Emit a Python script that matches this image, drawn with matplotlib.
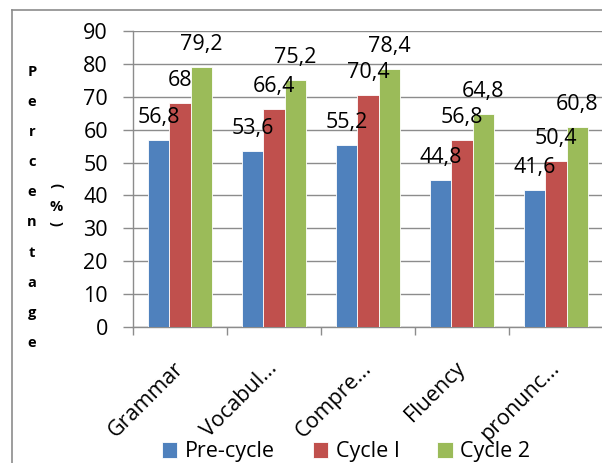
import numpy as np
import matplotlib.pyplot as plt
import matplotlib.transforms as mtransforms
from matplotlib.lines import Line2D

categories = ['Grammar', 'Vocabul...', 'Compre...', 'Fluency', 'pronunc...']
pre_cycle = [56.8, 53.6, 55.2, 44.8, 41.6]
cycle_1 = [68, 66.4, 70.4, 56.8, 50.4]
cycle_2 = [79.2, 75.2, 78.4, 64.8, 60.8]
series_names = ['Pre-cycle', 'Cycle I', 'Cycle 2']
colors = ['#4F81BD', '#C0504D', '#9BBB59']

plt.rcParams['font.family'] = ['Open Sans', 'DejaVu Sans']

W, H = 602, 463
fig = plt.figure(figsize=(W / 100, H / 100), dpi=100)
ax = fig.add_axes([133 / W, 136 / H, 470 / W, 296 / H])

x = np.arange(len(categories))
width = 0.224
grid_col = '#8C8C8C'
fs = 15.5

for i, (vals, name, col) in enumerate(zip([pre_cycle, cycle_1, cycle_2], series_names, colors)):
    pos = x + (i - 1) * width
    ax.bar(pos, vals, width, color=col, edgecolor='white', linewidth=0.6, label=name, zorder=3)
    for px, v in zip(pos, vals):
        lbl = ('%g' % v).replace('.', ',')
        ax.annotate(lbl, (px, v), xytext=(0, 17), textcoords='offset pixels',
                    ha='center', va='baseline', fontsize=fs, color='black', zorder=5)

ax.set_xlim(-0.5, len(categories) - 0.5)
ax.set_ylim(0, 90)
ax.set_yticks(range(0, 91, 10))
ax.yaxis.grid(True, color=grid_col, linewidth=1.0, zorder=0)
ax.set_axisbelow(True)

ax.set_xticks(np.arange(-0.5, len(categories), 1.0))
ax.set_xticklabels([])
ax.set_xticks(x, minor=True)
ax.set_xticklabels(categories, minor=True, rotation=45, ha='right',
                   rotation_mode='anchor', fontsize=fs)
ax.tick_params(axis='x', which='minor', length=0, pad=22)
ax.tick_params(axis='x', which='major', length=6, color=grid_col, width=1)
ax.tick_params(axis='y', length=7, color=grid_col, width=1, labelsize=fs, pad=11)

# nudge the slanted category names a little to the left
shift = mtransforms.ScaledTranslation(-7 / 100, 0, fig.dpi_scale_trans)
for lab in ax.get_xticklabels(minor=True):
    lab.set_transform(lab.get_transform() + shift)

for s in ['top', 'right']:
    ax.spines[s].set_visible(False)
for s in ['left', 'bottom']:
    ax.spines[s].set_color(grid_col)
    ax.spines[s].set_linewidth(1.0)

# stacked vertical axis title
word = 'Percentage'
for k, ch in enumerate(word):
    fig.text(32 / W, 1 - (72 + k * 30.1) / H, ch, ha='center', va='center',
             fontsize=10.5, fontweight='bold')
fig.text(56 / W, 1 - 186 / H, '(', rotation=-90, ha='center', va='center',
         fontsize=10.5, fontweight='bold')
fig.text(56 / W, 1 - 207 / H, '%', ha='center', va='center',
         fontsize=10.5, fontweight='bold')
fig.text(56 / W, 1 - 223 / H, ')', rotation=-90, ha='center', va='center',
         fontsize=10.5, fontweight='bold')

ax.legend(loc='center', bbox_to_anchor=(346 / W, 1 - 452 / H),
          bbox_transform=fig.transFigure, ncol=3, frameon=False, fontsize=fs,
          handlelength=0.72, handleheight=0.72, handletextpad=0.35, columnspacing=1.75,
          borderpad=0.1)

# outer chart frame
fig.add_artist(Line2D([12 / W, 12 / W], [0, 1 - 10 / H], color='#8C8C8C', linewidth=1.2))
fig.add_artist(Line2D([12 / W, 1], [1 - 10 / H, 1 - 10 / H], color='#8C8C8C', linewidth=1.2))

fig.savefig('out.png', dpi=100)
